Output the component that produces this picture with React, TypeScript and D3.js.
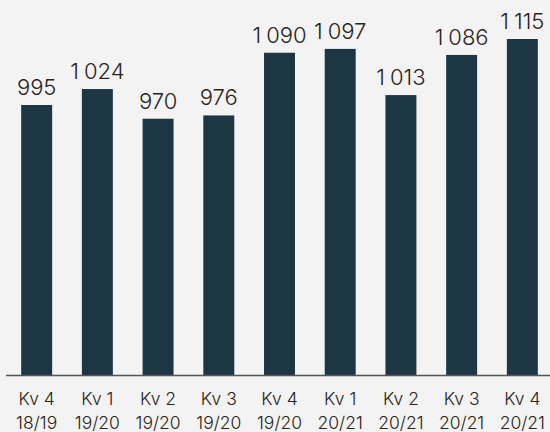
import { useEffect, useRef } from 'react';
import * as d3 from 'd3';

const quarters = ['Kv 4', 'Kv 1', 'Kv 2', 'Kv 3', 'Kv 4', 'Kv 1', 'Kv 2', 'Kv 3', 'Kv 4'];
const years = ['18/19', '19/20', '19/20', '19/20', '19/20', '20/21', '20/21', '20/21', '20/21'];
const values = [995, 1024, 970, 976, 1090, 1097, 1013, 1086, 1115];

// split thousands so they can get a thin gap
const parts = (v: number) => {
  const s = String(v);
  return s.length > 3 ? [s.slice(0, s.length - 3), s.slice(-3)] : ['', s];
};

export default function App() {
  const svgRef = useRef<SVGSVGElement | null>(null);

  useEffect(() => {
    if (!svgRef.current) return;
    const width = 550;
    const height = 432;
    const baseY = 375;

    const svg = d3.select(svgRef.current);
    svg.selectAll('*').remove();

    svg.append('rect').attr('width', width).attr('height', height).attr('fill', '#f3f3f3');

    const x = d3.scaleBand<number>()
      .domain(values.map((_, i) => i))
      .range([6, 553])
      .paddingInner(0.49)
      .paddingOuter(0.25);

    const y = d3.scaleLinear().domain([504, 1115]).range([baseY, 39]);

    const font = 'Inter, "Noto Sans", sans-serif';

    svg.append('g')
      .selectAll('rect')
      .data(values)
      .join('rect')
      .attr('x', (_, i) => x(i)!)
      .attr('y', d => y(d))
      .attr('width', x.bandwidth())
      .attr('height', d => baseY - y(d))
      .attr('fill', '#1d3644');

    const vals = svg.append('g')
      .selectAll('text')
      .data(values)
      .join('text')
      .attr('x', (_, i) => x(i)! + x.bandwidth() / 2)
      .attr('y', d => y(d) - 10)
      .attr('text-anchor', 'middle')
      .attr('fill', '#2a2320')
      .style('font-family', font)
      .style('font-size', '22px')
      .style('font-weight', 300);

    vals.append('tspan').text(d => parts(d)[0]);
    vals.append('tspan').attr('dx', d => (parts(d)[0] ? 5 : 0)).text(d => parts(d)[1]);

    svg.append('line')
      .attr('x1', 6)
      .attr('x2', width)
      .attr('y1', baseY + 0.5)
      .attr('y2', baseY + 0.5)
      .attr('stroke', '#555')
      .attr('stroke-width', 1.5);

    const labels = svg.append('g')
      .selectAll('text')
      .data(quarters)
      .join('text')
      .attr('text-anchor', 'middle')
      .attr('fill', '#2a2320')
      .style('font-family', font)
      .style('font-size', '17.5px')
      .style('font-weight', 300);

    labels.append('tspan').attr('x', (_, i) => x(i)! + x.bandwidth() / 2).attr('y', 405).text(d => d);
    labels.append('tspan').attr('x', (_, i) => x(i)! + x.bandwidth() / 2).attr('y', 429).text((_, i) => years[i]);
  }, []);

  return (
    <div style={{ position: 'fixed', left: 0, top: 0, width: 550, height: 432, overflow: 'hidden' }}>
      <svg ref={svgRef} width={550} height={432} style={{ display: 'block' }} />
    </div>
  );
}
